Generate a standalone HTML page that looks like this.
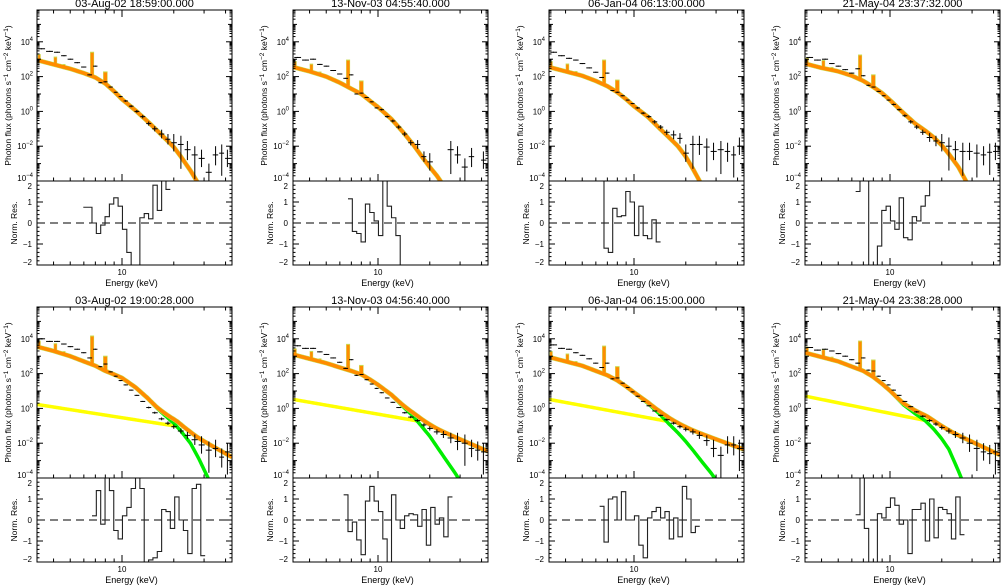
<!DOCTYPE html>
<html><head><meta charset="utf-8">
<style>
html,body{margin:0;padding:0;background:#fff;}
svg{display:block;font-family:"Liberation Sans",sans-serif;}
</style></head>
<body>
<svg id="fig" width="1003" height="587" viewBox="0 0 1003 587" xmlns="http://www.w3.org/2000/svg"></svg>
<script>
// ---- data ----
const titles = ["03-Aug-02 18:59:00.000","13-Nov-03 04:55:40.000","06-Jan-04 06:13:00.000","21-May-04 23:37:32.000",
                "03-Aug-02 19:00:28.000","13-Nov-03 04:56:40.000","06-Jan-04 06:15:00.000","21-May-04 23:38:28.000"];
const modelE = [3.2,4,5,6,7,8,9,10,12,14,16,18,20,22,25,28,32];
const thermalLog = [
 [2.95,2.7,2.45,2.2,1.95,1.6,1.15,0.7,0.05,-0.55,-1.1,-1.6,-2.05,-2.6,-3.4,-4.2,-5.2],
 [2.55,2.3,2.0,1.65,1.3,1.0,0.6,0.25,-0.45,-1.2,-1.9,-2.6,-3.2,-3.7,-4.5,-5.2,-6],
 [2.55,2.3,2.05,1.75,1.45,1.1,0.7,0.3,-0.3,-0.95,-1.5,-2.0,-2.6,-3.3,-4.3,-5.2,-6],
 [2.75,2.5,2.3,2.05,1.75,1.4,1.05,0.65,-0.1,-0.7,-1.1,-1.5,-1.95,-2.45,-3.2,-4.1,-5.2],
 [3.55,3.3,3.0,2.7,2.45,2.15,1.95,1.75,1.2,0.6,0.0,-0.45,-0.85,-1.3,-2.0,-2.9,-4.1],
 [3.1,2.85,2.6,2.35,2.15,1.95,1.65,1.35,0.75,0.1,-0.45,-1.05,-1.6,-2.2,-3.0,-3.7,-4.6],
 [2.95,2.7,2.45,2.15,1.9,1.6,1.25,0.9,0.3,-0.3,-0.9,-1.4,-1.9,-2.4,-3.1,-3.7,-4.5],
 [3.2,2.95,2.7,2.4,2.15,1.8,1.4,1.0,0.2,-0.3,-0.7,-1.2,-1.75,-2.35,-3.6,-4.8,-6]
];
// broken power law (bottom row): log flux at 3.2 keV, at break, at 43.6 keV
const plBreakE = [null,null,null,null,20.9,17.1,15.4,16.7];
const plLog = [null,null,null,null,[0.23,-1.03,-2.8],[0.52,-0.73,-2.47],[0.52,-0.73,-2.36],[0.71,-0.73,-2.68]];
// emission lines
const lineE = [3.3,4.1,4.6,6.7,8.0];
const smallLineBoost = [0.35,0.45,0.15];
const fe67Peak = [3.4,2.95,2.95,3.24,4.16,3.68,3.58,3.87];
const fe80Peak = [2.27,1.75,1.8,2.1,3.0,2.47,2.4,2.78];
// observed data points
const dataE = [3.4,3.8,4.2,4.6,5.0,5.5,6.0,6.5,7.0,7.5,8.0,8.6,9.2,9.8,10.5,11.3,12.2,13.2,14.3,15.5,17,18.5,20,22,24,26.5,29,32,35,38,41];
const dataLog = [
 [3.6,3.45,3.4,3.2,3.0,2.8,2.55,2.1,2.6,1.65,1.7,1.4,1.1,0.85,0.6,0.3,0.0,-0.3,-0.7,-1.0,-1.3,-1.6,-1.8,-1.9,-2.2,-2.5,-2.7,-3.5,-2.5,-2.4,-2.7],
 [3.1,2.95,3.0,2.7,2.6,2.35,2.15,1.9,2.1,1.0,1.05,0.8,0.55,0.2,0.1,-0.3,-0.55,-0.9,-1.3,-1.8,-1.9,-2.6,-2.9,null,null,-2.2,-2.5,-3.2,-2.6,null,-2.8],
 [3.4,3.2,3.05,2.95,2.75,2.5,2.25,1.95,2.2,1.2,1.1,0.9,0.65,0.45,0.2,-0.1,-0.3,-0.6,-0.9,-1.2,-1.35,-1.55,-2.4,-1.9,-1.9,-2.05,-2.3,-2.2,-2.3,-2.5,-2.0],
 [3.1,2.95,3.0,2.75,2.6,2.4,2.2,2.45,2.05,1.5,1.4,1.15,0.9,0.65,0.4,0.1,-0.25,-0.6,-0.9,-1.2,-1.5,-1.7,-1.8,-2.0,-2.2,-2.3,-2.3,-2.4,-2.5,-2.35,-2.3],
 [4.0,3.85,3.85,3.7,3.55,3.4,3.2,2.9,3.4,2.4,2.55,2.1,1.85,1.6,1.35,1.05,0.75,0.4,0.05,-0.25,-0.6,-0.85,-1.05,-1.3,-1.55,-1.8,-2.1,-2.4,-2.3,-2.8,-2.5],
 [3.6,3.45,3.45,3.25,3.1,2.9,2.65,2.3,2.8,1.9,1.95,1.65,1.4,1.15,0.9,0.6,0.35,0.05,-0.25,-0.5,-0.7,-0.95,-1.15,-1.35,-1.5,-1.7,-1.9,-2.0,-2.3,-2.4,-2.5],
 [3.65,3.45,3.4,3.2,3.05,2.85,2.6,2.35,2.6,1.7,1.75,1.45,1.2,0.95,0.7,0.4,0.15,-0.15,-0.4,-0.65,-0.85,-1.05,-1.2,-1.35,-1.55,-1.85,-2.3,-2.7,-2.1,-2.1,-2.3],
 [3.5,3.35,3.4,3.3,3.15,3.0,2.8,2.6,2.9,2.2,2.15,1.85,1.6,1.35,1.05,0.75,0.4,0.1,-0.2,-0.45,-0.7,-0.9,-1.1,-1.3,-1.5,-1.7,-2.0,-2.3,-2.5,-2.6,-2.5]
];
const errTop = [.03,.03,.03,.03,.03,.03,.03,.03,.03,.03,.03,.03,.03,.03,.05,.06,.08,.1,.12,.15,.25,.3,.5,1.4,.6,1.4,.5,1.4,.6,1.3,.5];
const errBot = [.03,.03,.03,.03,.03,.03,.03,.03,.03,.03,.03,.03,.03,.03,.03,.03,.03,.03,.05,.06,.08,.1,.12,.15,.2,.3,.5,1.3,.5,.6,1.3];
// normalized residuals, bins E_k = 5.0*1.06^k
const resStartE = 5.0, resRatio = 1.06;
const resid = [
 [null,null,null,0.75,0.75,0,-0.5,-0.1,0.3,0.9,1.2,0.8,-0.3,-1.4,-2.5,-2.5,0.25,0.45,0.2,1.8,0.6,2.5,1.6],
 [null,null,null,null,null,1.15,-0.4,-0.5,-0.9,0.9,0.5,0.1,-0.6,2.5,0.8,0.25,-0.6,-2.5],
 [null,null,null,null,2.5,-1.2,-1.4,0.7,0.3,0.35,1.5,1.0,-0.6,0.8,-0.6,-0.75,0.15,-0.9],
 [null,null,null,null,1.5,2.5,2.5,-2.5,-2.5,-1.1,0.6,0.8,0.1,-0.3,1.2,-0.7,-0.8,0.3,0.1,0.8,1.3,2.5,2.5],
 [null,null,null,null,null,0.2,1.4,-0.2,2.5,1.4,-0.5,-0.9,0.2,0.6,1.5,2.5,1.5,-2.5,-1.9,-1.8,-1.5,0.5,0.4,-0.4,1.1,0.0,-0.5,-1.6,1.5,1.7,-1.7],
 [null,null,null,null,1.2,-0.55,-0.1,-0.95,-1.65,0.9,1.6,0.9,0.4,-0.9,-2.5,1.2,0.0,-0.4,0.2,0.3,0.25,-0.3,0.5,-1.2,0.6,-0.2,0.1,-0.8,1.1],
 [null,null,null,null,0.65,-1.05,1.0,1.1,0.0,1.35,0.0,0.0,0.2,-1.2,-1.8,0.1,0.4,0.6,0.1,0.4,-0.9,0.1,-0.8,1.6,1.0,-0.6,-0.3],
 [null,null,null,null,0.25,2.5,-0.4,-2.5,-2.0,0.3,0.1,0.6,1.05,0.7,-0.2,0.0,-1.6,0.5,0.5,0.8,-1.0,1.0,-0.85,0.6,0.5,0.3,-0.9,1.1,-0.7]
];
const yTickLabels = ["-4","-2","0","2","4"];
const resTickLabels = ["-2","-1","0","1","2"];

// ---- layout ----
const NS = "http://www.w3.org/2000/svg";
const svg = document.getElementById('fig');
const lefts = [37,293,549,805], W = 195;
const rows = [{top:10,mid:181,bot:265},{top:307,mid:478,bot:562}];
const PXDEC_X = 172, LOGEMIN = 0.5058, PXDEC_Y = 17.4, YMIN = -4;

function el(tag, attrs, parent){ const e=document.createElementNS(NS,tag); for(const k in attrs) e.setAttribute(k,attrs[k]); (parent||svg).appendChild(e); return e; }
function interp(xs, ys, x){
  if(x<=xs[0]) return ys[0];
  for(let i=1;i<xs.length;i++){ if(x<=xs[i]){ const t=(Math.log10(x)-Math.log10(xs[i-1]))/(Math.log10(xs[i])-Math.log10(xs[i-1])); return ys[i-1]+t*(ys[i]-ys[i-1]); } }
  const n=xs.length; const t=(Math.log10(x)-Math.log10(xs[n-2]))/(Math.log10(xs[n-1])-Math.log10(xs[n-2])); return ys[n-2]+t*(ys[n-1]-ys[n-2]);
}

const defs = el('defs',{});
for(let p=0;p<8;p++){
  const col=p%4, r=rows[Math.floor(p/4)], L=lefts[col];
  const xs = E => L + (Math.log10(E)-LOGEMIN)*PXDEC_X;
  const ys = lg => r.mid - (lg-YMIN)*PXDEC_Y;
  const yr = v => (r.mid+r.bot)/2 - v*((r.bot-r.mid)/4);
  const g = el('g',{});
  
  
  const cpM = el('clipPath',{id:'cm'+p},defs); el('rect',{x:L,y:r.top,width:W,height:r.mid-r.top},cpM);
  const cpR = el('clipPath',{id:'cr'+p},defs); el('rect',{x:L,y:r.mid,width:W,height:r.bot-r.mid},cpR);

  const t = el('text',{x:L+W/2,y:r.top-3,'text-anchor':'middle','font-size':'11'},g); t.textContent=titles[p];
  
  

  const gm = el('g',{'clip-path':'url(#cm'+p+')'},g);
  const N=160;
  const th = thermalLog[p];
  const pl = plLog[p];
  function plAt(E){ const b=plBreakE[p]; return E<=b ? interp([3.2,b],[pl[0],pl[1]],E) : interp([b,43.6],[pl[1],pl[2]],E); }
  let totPts=[], thPts=[], plPts=[];
  for(let i=0;i<=N;i++){
    const E=Math.pow(10,LOGEMIN+i/N*(W/PXDEC_X));
    const lt=interp(modelE,th,E);
    let tot=lt;
    if(pl){ const lp=plAt(E); tot=Math.log10(Math.pow(10,lt)+Math.pow(10,lp)); thPts.push(xs(E)+','+ys(lt)); if(E<=plBreakE[p]) plPts.push(xs(E)+','+ys(lp)); }
    totPts.push(xs(E)+','+ys(tot));
  }
  if(pl){
    const yl = el('polyline',{points:plPts.join(' '),fill:'none',stroke:'#ffff00','stroke-width':3.5},gm);
    
    
    const gr = el('polyline',{points:thPts.join(' '),fill:'none',stroke:'#00ee00','stroke-width':3.5},gm);
    
    
  }
  const cont = E => { const lt=interp(modelE,th,E); return pl? Math.log10(Math.pow(10,lt)+Math.pow(10,plAt(E))) : lt; };
  const peaks=[cont(lineE[0])+smallLineBoost[0],cont(lineE[1])+smallLineBoost[1],cont(lineE[2])+smallLineBoost[2],fe67Peak[p],fe80Peak[p]];
  const widths=[2,2.5,2,3,3.5];
  const ed = el('polyline',{points:totPts.join(' '),fill:'none',stroke:'#c8dc50','stroke-width':4.6},gm);
  
  
  for(let i=0;i<lineE.length;i++){
    const x=xs(lineE[i]);
    const ln = el('line',{x1:x,x2:x,y1:ys(cont(lineE[i])),y2:ys(peaks[i])-0.5,stroke:'#c8dc50','stroke-width':widths[i]+1},gm);
    
    
    const l2 = el('line',{x1:x,x2:x,y1:ys(cont(lineE[i])),y2:ys(peaks[i])+0.5,stroke:'#ff8c00','stroke-width':widths[i]},gm);
    
    
  }
  const or = el('polyline',{points:totPts.join(' '),fill:'none',stroke:'#ff8c00','stroke-width':3.6},gm);
  
  

  const err = p<4?errTop:errBot;
  const dl = dataLog[p];
  for(let i=0;i<dataE.length;i++){
    if(dl[i]===null) continue;
    const Ea = i>0? Math.sqrt(dataE[i-1]*dataE[i]) : dataE[0]/1.05;
    const Eb = i<dataE.length-1? Math.sqrt(dataE[i]*dataE[i+1]) : dataE[i]*1.05;
    const y=ys(dl[i]);
    const pt = el('g',{stroke:'#000','stroke-width':1},gm);
    
    
    el('line',{x1:xs(Ea)+0.5,x2:xs(Eb)-0.5,y1:y,y2:y},pt);
    el('line',{x1:xs(dataE[i]),x2:xs(dataE[i]),y1:ys(dl[i]+Math.min(err[i],0.5)),y2:ys(dl[i]-err[i])},pt);
  }

  const gr2 = el('g',{'clip-path':'url(#cr'+p+')'},g);
  const z = el('line',{x1:L,x2:L+W,y1:yr(0),y2:yr(0),stroke:'#000','stroke-width':1,'stroke-dasharray':'8,5'},gr2);
  
  
  const rv=resid[p]; let d=''; let started=false;
  for(let k=0;k<rv.length;k++){
    if(rv[k]===null) continue;
    const xa=xs(resStartE*Math.pow(resRatio,k)), xb=xs(resStartE*Math.pow(resRatio,k+1)), y=yr(rv[k]);
    if(!started){ d+='M'+xa+','+y; started=true; } else d+='L'+xa+','+y;
    d+='L'+xb+','+y;
  }
  const rp = el('path',{d:d,fill:'none',stroke:'#222','stroke-width':1.1},gr2);
  
  

  const ax = el('g',{stroke:'#000','stroke-width':1,fill:'none'},g);
  
  
  el('rect',{x:L,y:r.top,width:W,height:r.bot-r.top},ax);
  el('line',{x1:L,x2:L+W,y1:r.mid,y2:r.mid},ax);
  const ytop = YMIN+(r.mid-r.top)/PXDEC_Y;
  for(let dcd=YMIN; dcd<=Math.ceil(ytop); dcd++){
    for(let m=1;m<10;m++){
      const lg=dcd+Math.log10(m); if(lg>ytop||lg<YMIN) continue;
      const y=ys(lg), len=m===1?(dcd%2===0?6:4):2.5;
      el('line',{x1:L,x2:L+len,y1:y,y2:y},ax); el('line',{x1:L+W,x2:L+W-len,y1:y,y2:y},ax);
    }
  }
  [4,5,6,7,8,9,10,20,30,40].forEach(E=>{
    const x=xs(E), len=E===10?7:3.5;
    el('line',{x1:x,x2:x,y1:r.bot,y2:r.bot-len},ax); el('line',{x1:x,x2:x,y1:r.top,y2:r.top+len},ax);
    el('line',{x1:x,x2:x,y1:r.mid,y2:r.mid-len},ax);
  });
  for(let v=-2;v<=2.001;v+=0.2){
    const y=yr(v), len=Math.abs(v-Math.round(v))<0.01?6:2.5;
    el('line',{x1:L,x2:L+len,y1:y,y2:y},ax); el('line',{x1:L+W,x2:L+W-len,y1:y,y2:y},ax);
  }
  const lab = el('g',{'font-size':'8',fill:'#000'},g);
  yTickLabels.forEach((s,i)=>{
    const y=ys(Number(s));
    const t=el('text',{x:L-4,y:(i===0?y:y+3),'text-anchor':'end'},lab);
    
    
    const a=el('tspan',{},t); a.textContent='10';
    const b=el('tspan',{dy:-4,'font-size':'6'},t); b.textContent=s.replace('-','\u2212');
  });
  resTickLabels.forEach(s=>{
    const y=yr(Number(s));
    const t=el('text',{x:L-5,y:Math.min(Math.max(y+3,r.mid+8),r.bot),'text-anchor':'end'},lab); t.textContent=s.replace('-','\u2212');
    
    
  });
  const x10=el('text',{x:xs(10),y:r.bot+10,'text-anchor':'middle'},lab); x10.textContent='10';
  
  
  const xl=el('text',{x:L+W/2-3,y:r.bot+21,'text-anchor':'middle','font-size':'9'},lab); xl.textContent='Energy (keV)';
  
  
  const cy=(r.top+r.mid)/2;
  const yl=el('text',{x:0,y:0,'text-anchor':'middle','font-size':'8.5',transform:'translate('+(L-26)+','+cy+') rotate(-90)'},lab);
  
  
  const parts=[['Photon flux (photons s',0],['\u22121',-3],[' cm',3],['\u22122',-3],[' keV',3],['\u22121',-3],[')',3]];
  parts.forEach(([s,dy],i)=>{ const ts=el('tspan',{dy:dy},yl); if(dy<0) ts.setAttribute('font-size','6.5'); ts.textContent=s; });
  const rl=el('text',{x:0,y:0,'text-anchor':'middle','font-size':'8.5',transform:'translate('+(L-20)+','+((r.mid+r.bot)/2)+') rotate(-90)'},lab);
  rl.textContent='Norm. Res.';
  
  
}
</script>
</body></html>
